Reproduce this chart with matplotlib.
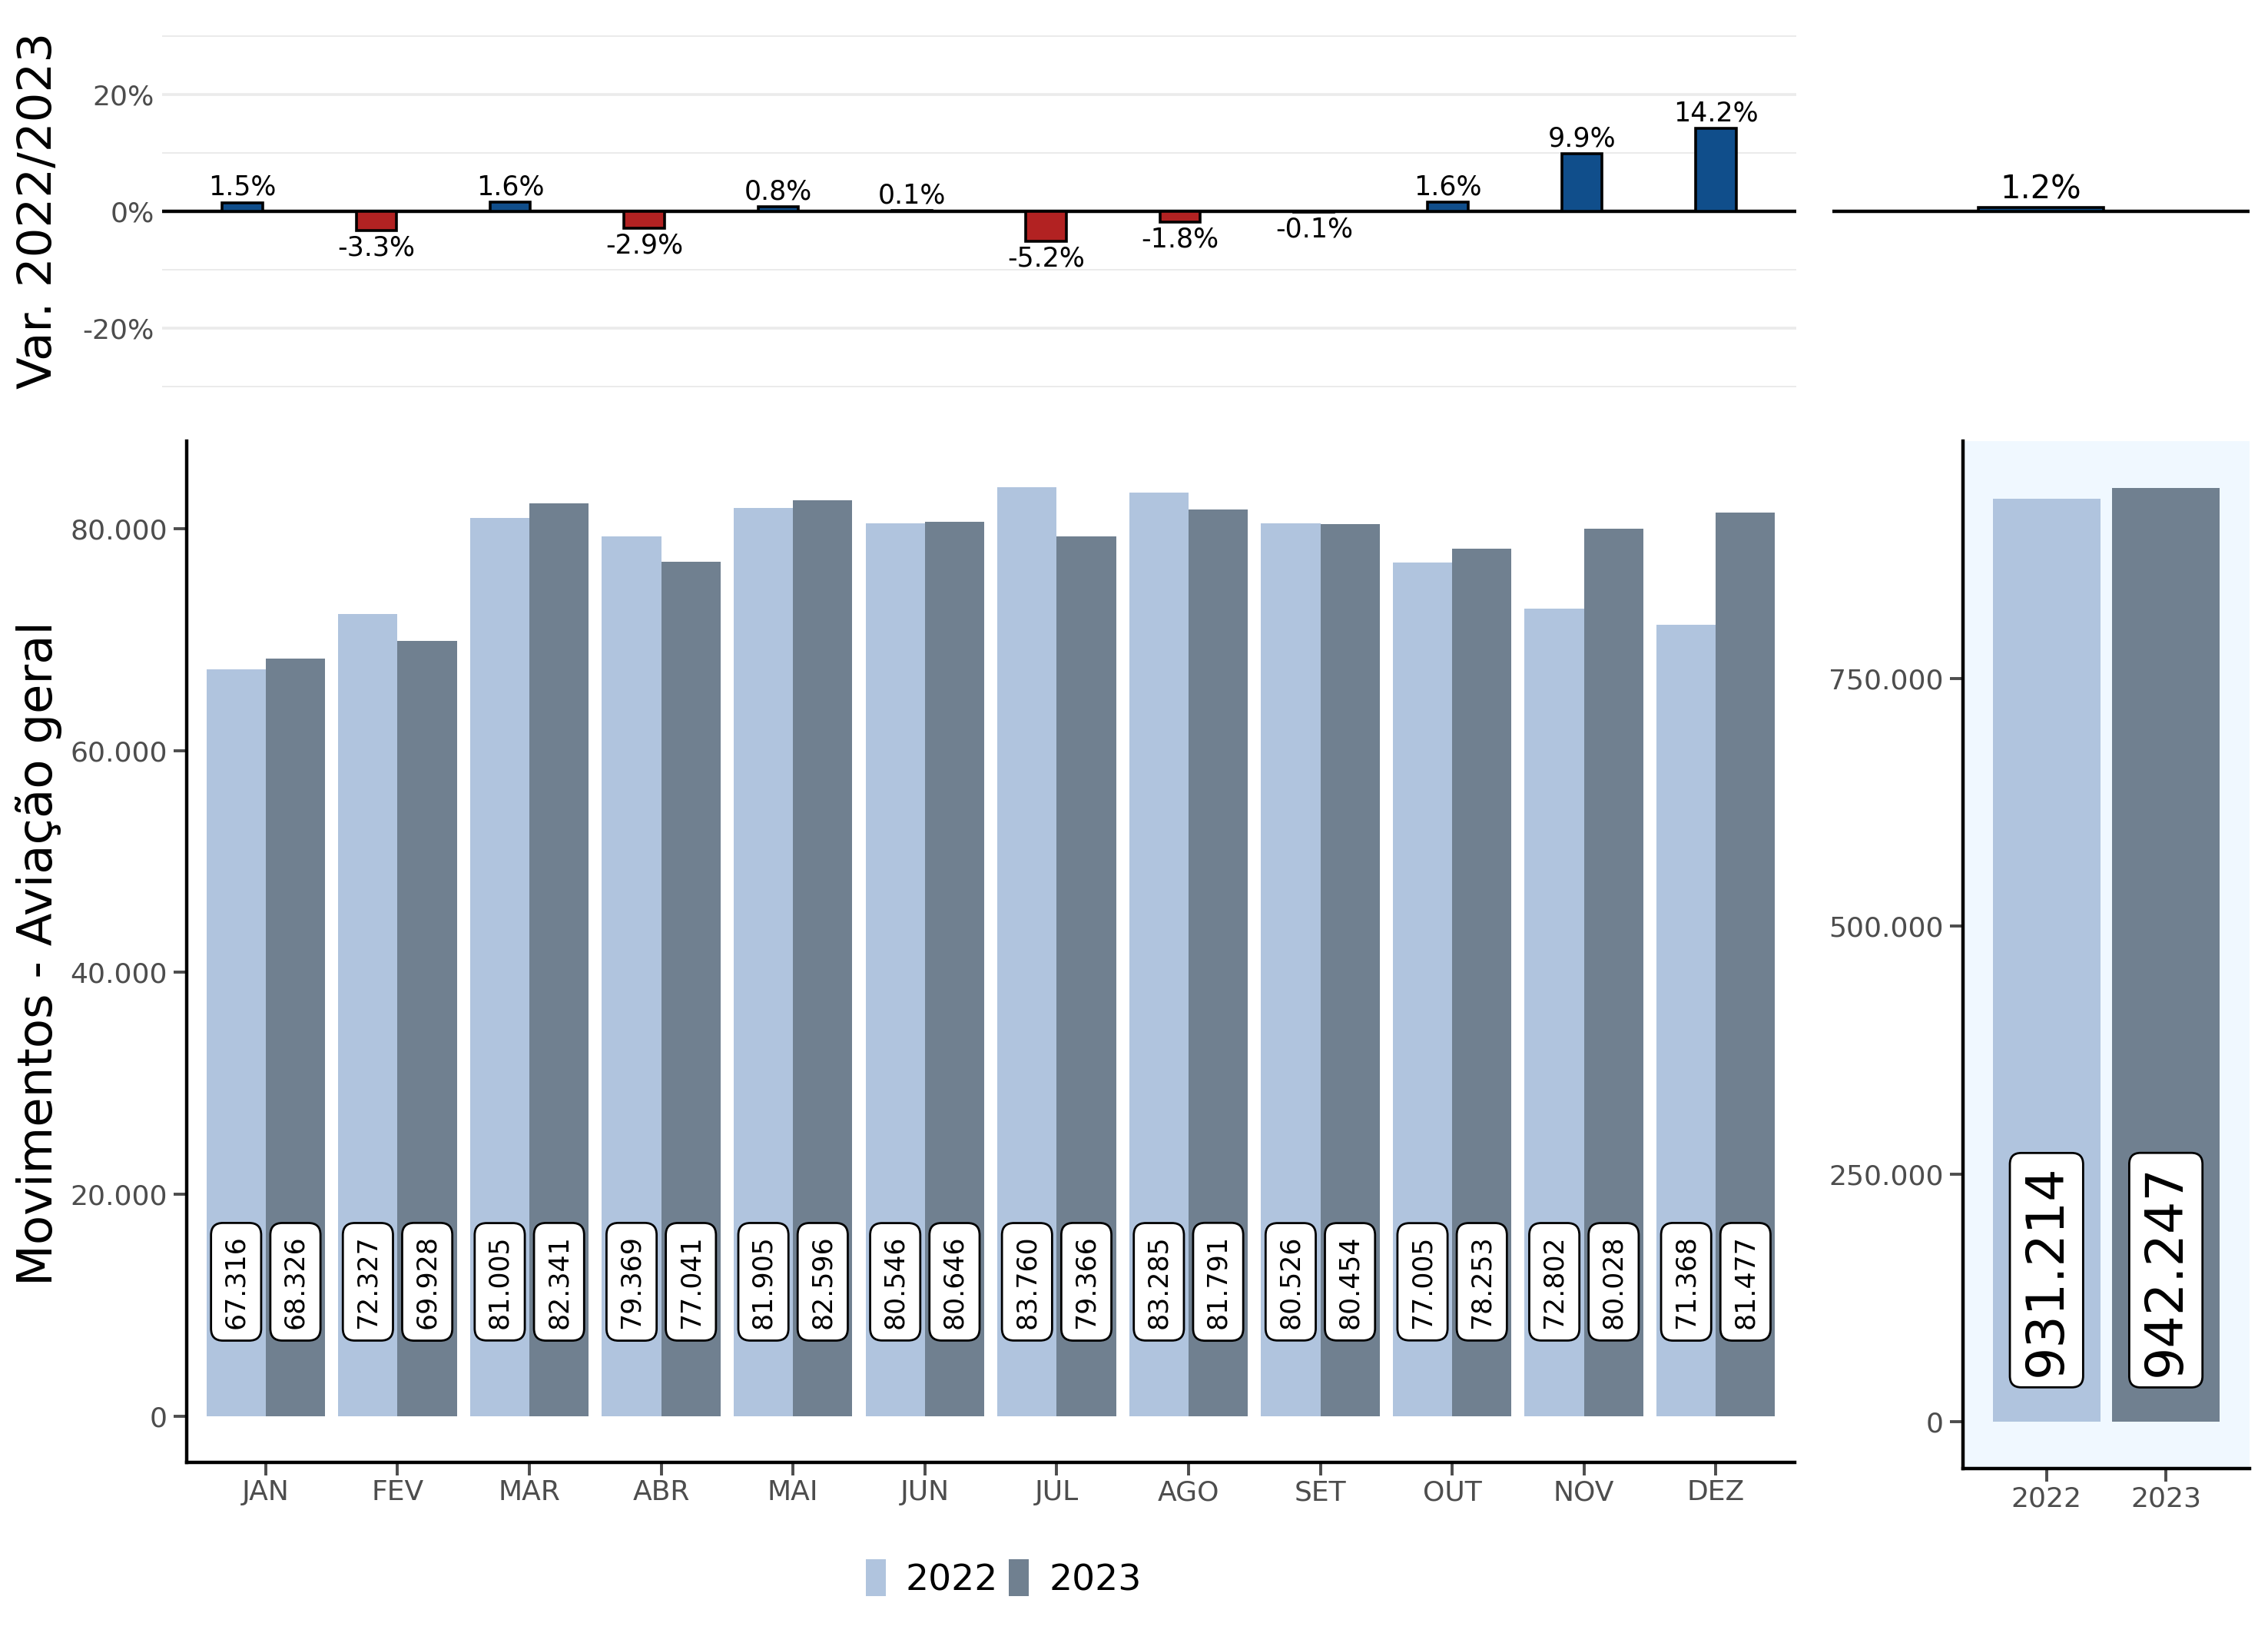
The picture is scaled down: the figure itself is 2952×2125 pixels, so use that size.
import numpy as np
import matplotlib
matplotlib.use("Agg")
import matplotlib.pyplot as plt
from matplotlib.patches import Patch

meses = ["JAN", "FEV", "MAR", "ABR", "MAI", "JUN", "JUL", "AGO", "SET", "OUT", "NOV", "DEZ"]
mov_2022 = [67316, 72327, 81005, 79369, 81905, 80546, 83760, 83285, 80526, 77005, 72802, 71368]
mov_2023 = [68326, 69928, 82341, 77041, 82596, 80646, 79366, 81791, 80454, 78253, 80028, 81477]
var_mes = [1.5, -3.3, 1.6, -2.9, 0.8, 0.1, -5.2, -1.8, -0.1, 1.6, 9.9, 14.2]
anos = ["2022", "2023"]
totais = [931214, 942247]
var_total = [1.2]

c22 = "#B0C4DE"
c23 = "#708090"
cpos = "#104E8B"
cneg = "#B22222"
cinza = "#4D4D4D"
grade = "#EBEBEB"


def milhar(v):
    return f"{int(v):,}".replace(",", ".")


def estilo_eixo(ax):
    for s in ["top", "right"]:
        ax.spines[s].set_visible(False)
    for s in ["left", "bottom"]:
        ax.spines[s].set_linewidth(1.6)
        ax.spines[s].set_color("black")
    ax.tick_params(axis="both", colors=cinza, labelsize=13, length=6, width=1.4, pad=3)
    ax.tick_params(axis="x", pad=2)


def barras_var(ax, x, vals, largura, lim, tam):
    cores = [cpos if v >= 0 else cneg for v in vals]
    ax.bar(x, vals, width=largura, color=cores, edgecolor="black", linewidth=1.3, zorder=3)
    for xi, v in zip(x, vals):
        if v >= 0:
            ax.annotate(f"{v:.1f}%", (xi, v), xytext=(0, 1), textcoords="offset points",
                        ha="center", va="bottom", fontsize=tam, zorder=4)
        else:
            ax.annotate(f"{v:.1f}%", (xi, v), xytext=(0, -2), textcoords="offset points",
                        ha="center", va="top", fontsize=tam, zorder=4)
    ax.axhline(0, color="black", lw=1.6, zorder=2)
    ax.set_ylim(-lim, lim)
    for s in ax.spines.values():
        s.set_visible(False)


fig = plt.figure(figsize=(14.76, 10.625), dpi=200)

# painel de variacao mensal
ax1 = fig.add_axes([0.0714, 0.7624, 0.7206, 0.2164])
x = np.arange(1, len(meses) + 1)
barras_var(ax1, x, var_mes, 0.3, 30.3, 12.5)
ax1.set_xlim(0.4, 12.6)
ax1.set_yticks([-20, 0, 20])
ax1.set_yticklabels(["-20%", "0%", "20%"])
ax1.set_yticks([-30, -10, 10, 30], minor=True)
ax1.grid(axis="y", which="major", color=grade, lw=1.3, zorder=0)
ax1.grid(axis="y", which="minor", color=grade, lw=0.7, zorder=0)
ax1.set_xticks([])
ax1.tick_params(axis="y", which="both", length=0, colors=cinza, labelsize=13)

# painel de variacao total
ax2 = fig.add_axes([0.808, 0.7624, 0.1838, 0.2164])
barras_var(ax2, [1], var_total, 0.3, 60, 15)
ax2.set_xlim(0.5, 1.5)
ax2.set_xticks([])
ax2.set_yticks([])

# painel mensal
ax3 = fig.add_axes([0.0823, 0.1045, 0.7091, 0.6255])
w = 0.45
ax3.bar(x - w / 2, mov_2022, width=w, color=c22, zorder=2)
ax3.bar(x + w / 2, mov_2023, width=w, color=c23, zorder=2)
caixa = dict(boxstyle="round,pad=0.45", fc="white", ec="black", lw=1)
for xi, a, b in zip(x, mov_2022, mov_2023):
    ax3.text(xi - w / 2, 12100, milhar(a), rotation=90, ha="center", va="center",
             fontsize=12.5, bbox=caixa, zorder=3)
    ax3.text(xi + w / 2, 12100, milhar(b), rotation=90, ha="center", va="center",
             fontsize=12.5, bbox=caixa, zorder=3)
ax3.set_xlim(0.4, 12.6)
ax3.set_ylim(-0.05 * max(mov_2022), 1.05 * max(mov_2022))
ax3.set_xticks(x)
ax3.set_xticklabels(meses)
ax3.set_yticks([0, 20000, 40000, 60000, 80000])
ax3.set_yticklabels([milhar(v) for v in [0, 20000, 40000, 60000, 80000]])
estilo_eixo(ax3)

# painel anual
ax4 = fig.add_axes([0.8655, 0.1007, 0.1263, 0.6293])
ax4.set_facecolor("#F0F8FF")
xa = np.arange(1, len(anos) + 1)
ax4.bar(xa, totais, width=0.9, color=[c22, c23], zorder=2)
for xi, t in zip(xa, totais):
    ax4.text(xi, 153000, milhar(t), rotation=90, ha="center", va="center",
             fontsize=24, bbox=dict(boxstyle="round,pad=0.22", fc="white", ec="black", lw=1), zorder=3)
ax4.set_xlim(0.3, 2.7)
ax4.set_ylim(-0.05 * max(totais), 1.05 * max(totais))
ax4.set_xticks(xa)
ax4.set_xticklabels(anos)
ax4.set_yticks([0, 250000, 500000, 750000])
ax4.set_yticklabels([milhar(v) for v in [0, 250000, 500000, 750000]])
estilo_eixo(ax4)

fig.text(0.017, 0.871, "Var. 2022/2023", rotation=90, ha="center", va="center", fontsize=22)
fig.text(0.017, 0.416, "Movimentos - Aviação geral", rotation=90, ha="center", va="center", fontsize=22.5)

alcas = [Patch(facecolor=c22, label="2022"), Patch(facecolor=c23, label="2023")]
fig.legend(handles=alcas, loc="center", bbox_to_anchor=(0.4425, 0.0334), ncol=2, frameon=False,
           fontsize=17, handlelength=0.55, handleheight=1.2, handletextpad=0.55, columnspacing=0.3)

fig.savefig("out.png", dpi=200, facecolor="white")
